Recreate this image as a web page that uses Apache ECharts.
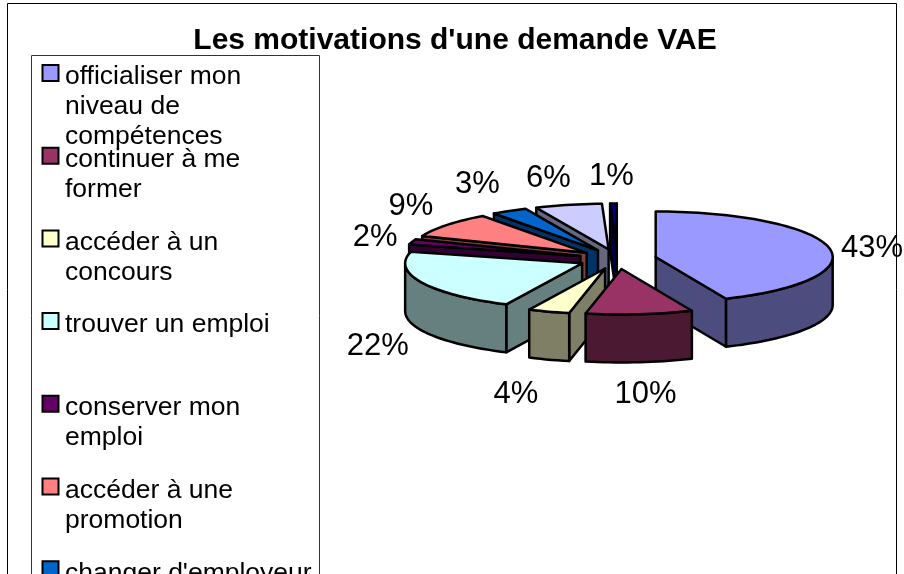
<!DOCTYPE html>
<html>
<head>
<meta charset="utf-8">
<title>Les motivations d'une demande VAE</title>
<script src="https://cdn.jsdelivr.net/npm/echarts@6/dist/echarts.min.js"></script>
<style>
  html, body { margin: 0; padding: 0; background: #fff; }
  #chart { width: 904px; height: 574px; }
</style>
</head>
<body>
<div id="chart"></div>
<script>
const chartTitle = "Les motivations d'une demande VAE";
const categories = [
    'officialiser mon\nniveau de\ncompétences',
    'continuer à me\nformer',
    'accéder à un\nconcours',
    'trouver un emploi',
    'conserver mon\nemploi',
    'accéder à une\npromotion',
    "changer d'employeur"
];
// shares, labels show them rounded
const values = [43.49, 9.76, 3.8, 22, 1.95, 9, 3.3, 6.1, 0.6];
const topColors = ['#9999FF', '#993366', '#FFFFCC', '#CCFFFF', '#660066', '#FF8080', '#0066CC', '#CCCCFF', '#000080'];
const wallColors = ['#4C4C7F', '#4C1933', '#7F7F66', '#667F7F', '#330033', '#7F4040', '#003366', '#66667F', '#000040'];

// pie layout, in pixels
const PIE = { cx: 617.5, cy: 259, rx: 177, ry: 45.5, height: 48, explode: 39 };
const labelOffsets = [[43, 1], [6, 80], [-33, 83], [-44, 64], [-37, -4], [-36, -19], [-32, -26], [-20, -26], [-2, -27]];
const FONT = '"Liberation Sans", Arial, sans-serif';

const total = values.reduce((a, b) => a + b, 0);
const rad = deg => deg * Math.PI / 180;

// angle 0 = 12 o'clock, clockwise
const pt = (ox, oy, deg, r = 1) => [ox + PIE.rx * r * Math.sin(rad(deg)), oy - PIE.ry * r * Math.cos(rad(deg))];

const arcPoints = (ox, oy, from, to) => {
    const pts = [];
    const steps = Math.max(2, Math.ceil((to - from) / 2));
    for (let i = 0; i <= steps; i++) pts.push(pt(ox, oy, from + (to - from) * i / steps));
    return pts;
};

const poly = (points, fill, z2) => ({
    type: 'polygon', z2, shape: { points },
    style: { fill, stroke: '#000', lineWidth: 2.5, lineJoin: 'round' }
});

const renderSlice = (params) => {
    const i = params.dataIndex;
    const start = values.slice(0, i).reduce((a, b) => a + b, 0) / total * 360;
    const end = start + values[i] / total * 360;
    const mid = (start + end) / 2;
    const ex = PIE.explode / PIE.rx;
    const [ox, oy] = pt(PIE.cx, PIE.cy, mid, ex);
    const h = PIE.height;
    // slices further back are painted first
    const z = Math.round((1 - Math.cos(rad(mid))) * 100);
    const children = [];
    const down = p => [p[0], p[1] + h];

    // radial walls, only those facing the viewer
    if (Math.sin(rad(start)) < 0) {
        const p = pt(ox, oy, start);
        children.push(poly([[ox, oy], p, down(p), [ox, oy + h]], wallColors[i], z * 10));
    }
    if (Math.sin(rad(end)) > 0) {
        const p = pt(ox, oy, end);
        children.push(poly([[ox, oy], p, down(p), [ox, oy + h]], wallColors[i], z * 10));
    }
    // outer wall, front half of the ellipse
    const a0 = Math.max(start, 90), a1 = Math.min(end, 270);
    if (a1 > a0) {
        const arc = arcPoints(ox, oy, a0, a1);
        children.push(poly(arc.concat(arc.map(down).reverse()), wallColors[i], z * 10 + 1));
    }
    // top face
    children.push(poly([[ox, oy]].concat(arcPoints(ox, oy, start, end)), topColors[i], z * 10 + 2));

    // percent label
    const edge = pt(PIE.cx, PIE.cy, mid, 1 + ex);
    children.push({
        type: 'text', z2: 9000,
        style: {
            x: edge[0] + labelOffsets[i][0], y: edge[1] + labelOffsets[i][1],
            text: Math.round(values[i]) + '%', fill: '#000', font: '31px ' + FONT,
            align: 'center', verticalAlign: 'middle'
        }
    });
    return { type: 'group', children };
};

const renderLegendRow = (params) => {
    const i = params.dataIndex;
    const top = 65 + 82.7 * i;
    return {
        type: 'group',
        children: [
            { type: 'rect', shape: { x: 42.5, y: top, width: 16, height: 16 },
              style: { fill: topColors[i], stroke: '#000', lineWidth: 2 } },
            { type: 'text', style: {
                x: 65, y: top - 3, text: categories[i], fill: '#000',
                font: '26.5px ' + FONT, lineHeight: 30, align: 'left', verticalAlign: 'top'
            } }
        ]
    };
};

const chart = echarts.init(document.getElementById('chart'), null, { renderer: 'canvas' });
chart.setOption({
    animation: false,
    backgroundColor: '#fff',
    title: {
        text: chartTitle, left: 450, top: 21, textAlign: 'center',
        textStyle: { fontFamily: FONT, fontWeight: 'bold', fontSize: 30, color: '#000' }
    },
    graphic: [
        { type: 'rect', z: 0, shape: { x: 7.5, y: 3.5, width: 889, height: 620 },
          style: { fill: '#fff', stroke: '#000', lineWidth: 1 } },
        { type: 'rect', z: 0, shape: { x: 31.5, y: 55.5, width: 288, height: 570 },
          style: { fill: '#fff', stroke: '#333', lineWidth: 1 } }
    ],
    series: [
        { type: 'custom', coordinateSystem: 'none', renderItem: renderSlice, data: values, silent: true },
        { type: 'custom', coordinateSystem: 'none', renderItem: renderLegendRow, data: categories, silent: true }
    ]
});
</script>
</body>
</html>
